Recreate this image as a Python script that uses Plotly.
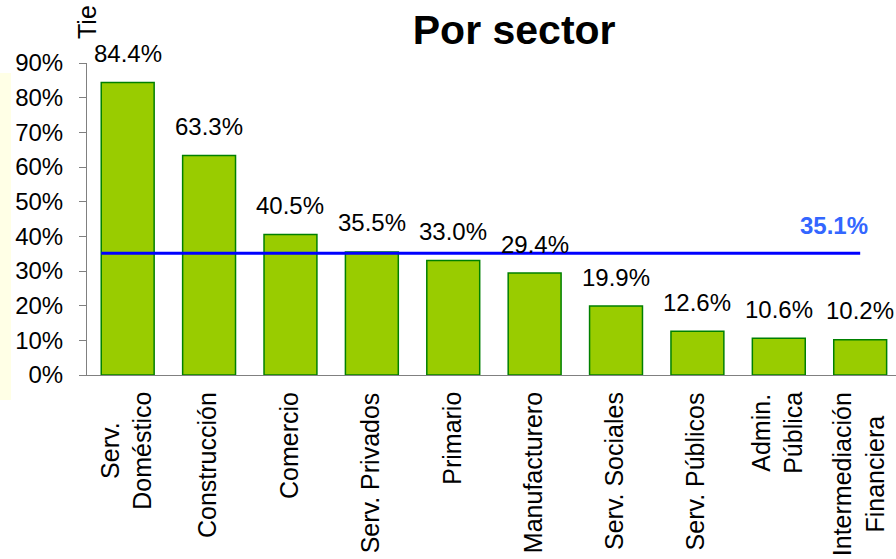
import plotly.graph_objects as go

categories = ["Serv.<br>Doméstico", "Construcción", "Comercio", "Serv. Privados",
              "Primario", "Manufacturero", "Serv. Sociales", "Serv. Públicos",
              "Admin.<br>Pública", "Intermediación<br>Financiera"]
values = [84.4, 63.3, 40.5, 35.5, 33.0, 29.4, 19.9, 12.6, 10.6, 10.2]
average = 35.1
y_tickvals = [0, 10, 20, 30, 40, 50, 60, 70, 80, 90]
y_ticktext = [f"{v}%" for v in y_tickvals]

FONT = "Liberation Sans, Arial, sans-serif"
BAR_W = 0.65
n = len(values)
xs = list(range(n))

fig = go.Figure()
fig.add_trace(go.Bar(
    x=xs, y=values, width=BAR_W,
    marker=dict(color="#99CC00", line=dict(color="#008000", width=1.5)),
    hoverinfo="skip", showlegend=False,
))
fig.add_trace(go.Scatter(
    x=[-BAR_W / 2, n - 1], y=[average, average], mode="lines",
    line=dict(color="#0000FF", width=3), hoverinfo="skip", showlegend=False,
))

annotations = []
for xi, v in zip(xs, values):
    annotations.append(dict(x=xi, y=v, xref="x", yref="y", text=f"{v:.1f}%",
                            showarrow=False, yanchor="middle", yshift=29,
                            font=dict(family=FONT, size=24, color="black")))
for xi, c in zip(xs, categories):
    annotations.append(dict(x=xi, y=0, xref="x", yref="y", text=c, textangle=-90,
                            showarrow=False, yanchor="top", xanchor="center", align="center",
                            yshift=-15, xshift=-2,
                            font=dict(family=FONT, size=25, color="black")))
annotations.append(dict(x=n - 1, y=average, xref="x", yref="y", text=f"<b>{average:.1f}%</b>",
                        showarrow=False, xanchor="right", yanchor="middle", xshift=10, yshift=28,
                        font=dict(family=FONT, size=24, color="#3366FF")))
# Cut-off rotated axis title fragment
annotations.append(dict(text="Tie", textangle=-90, xref="paper", yref="paper",
                        x=0.0, y=1.0, xanchor="center", yanchor="bottom", xshift=0, yshift=22,
                        showarrow=False, font=dict(family=FONT, size=25, color="black")))

fig.update_layout(
    annotations=annotations,
    width=896, height=559,
    margin=dict(l=87, r=0, t=63, b=184),
    paper_bgcolor="white", plot_bgcolor="white",
    title=dict(text="<b>Por sector</b>", x=0.528, xref="paper", xanchor="center",
               y=1 - 30 / 559, yref="container", yanchor="middle",
               font=dict(family=FONT, size=41, color="black")),
    xaxis=dict(range=[-0.5, 9.44], showticklabels=False, ticks="", showgrid=False,
               zeroline=False, showline=True, linecolor="#808080", linewidth=1),
    yaxis=dict(range=[0, 90], tickvals=y_tickvals, ticktext=y_ticktext, ticks="outside",
               ticklen=7, tickcolor="#808080", showgrid=False, zeroline=False,
               showline=True, linecolor="#808080", linewidth=1, ticklabelstandoff=11,
               tickfont=dict(family=FONT, size=24, color="black")),
    shapes=[dict(type="rect", xref="paper", yref="paper", layer="below",
                 x0=-87 / 809, x1=(11 - 87) / 809, y0=(375 - 400) / 312, y1=(375 - 73) / 312,
                 fillcolor="#FFFFE6", line=dict(width=0))],
)
fig.write_html("out.html", config={"displayModeBar": False},
               post_script="document.body.style.margin='0';")
